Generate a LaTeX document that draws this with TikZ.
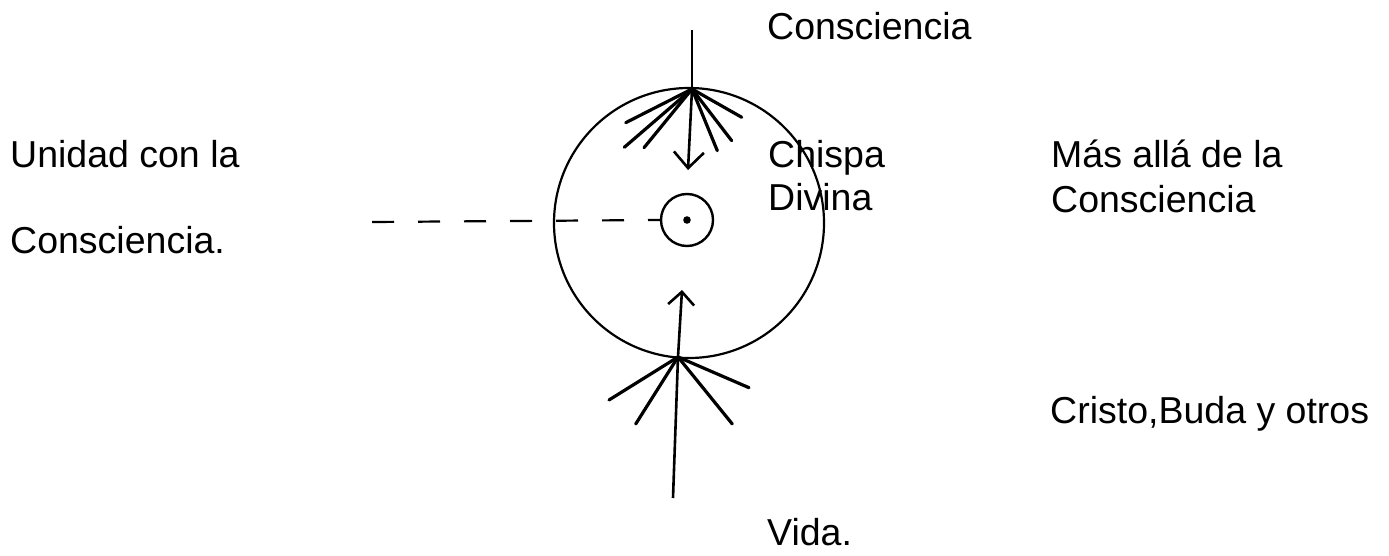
\documentclass[tikz,border=0pt]{standalone}
\usepackage{fontspec}
\setmainfont{Liberation Sans}
\usetikzlibrary{arrows.meta}

\begin{document}
\begin{tikzpicture}[
    x=1pt, y=-1pt,
    >={Straight Barb[length=16pt,width=30pt]},
    txt/.style={anchor=base west,inner sep=0pt,font=\fontsize{37.5}{43}\selectfont},
    ray/.style={line width=3.2pt,line cap=round},
    stem/.style={line width=2.6pt},
]
\useasboundingbox (0,0) rectangle (1389,556);

% outer sphere and the spark inside
\node[circle,draw,line width=2.2pt,minimum size=270pt,inner sep=0pt] (orb) at (689,223) {};
\node[circle,draw,line width=2.4pt,minimum size=52pt,inner sep=0pt] (spark) at (687,220) {};
\fill (spark.center) circle[radius=3.8pt];

% Consciencia coming in from above
\coordinate (ctop) at (692,89);
\coordinate (topend) at (692,30);
\coordinate (toptip) at (688,170);
\draw[stem] (topend) -- (ctop);
\draw[stem,->] (ctop) -- (toptip);
\foreach \x/\y in {625.7/122.7, 624.3/147.3, 644/147.7, 717.3/150.7, 731.7/140.7, 741.7/117.3}
    \draw[ray] (ctop) -- (\x,\y);

% Vida coming in from below
\coordinate (cbot) at (678,357);
\coordinate (botend) at (673,498);
\coordinate (bottip) at (682,290);
\draw[stem] (botend) -- (cbot);
\draw[stem,>={Straight Barb[length=13pt,width=26pt]},->] (cbot) -- (bottip);
\foreach \x/\y in {609/400, 635.7/424, 732.3/424, 749/387.7}
    \draw[ray] (cbot) -- (\x,\y);

% dashed link to the spark
\coordinate (dashstart) at (372,222);
\draw[line width=2.2pt,dash pattern=on 22pt off 24pt] (dashstart) -- (spark.west);

% Labels
\node[txt] (topname) at (767,40) {Consciencia};
\node[txt] (sparkname) at (768,168) {Chispa};
\node[txt] (sparkname2) at (768,211) {Divina};
\node[txt] (unity) at (10,168) {Unidad con la};
\node[txt] (unity2) at (10,253) {Consciencia.};
\node[txt] (beyond) at (1051,168) {Más allá de la};
\node[txt] (beyond2) at (1051,212) {Consciencia};
\node[txt] (masters) at (1050,423) {Cristo,Buda y otros};
\node[txt] (life) at (767,545) {Vida.};
\end{tikzpicture}
\end{document}
